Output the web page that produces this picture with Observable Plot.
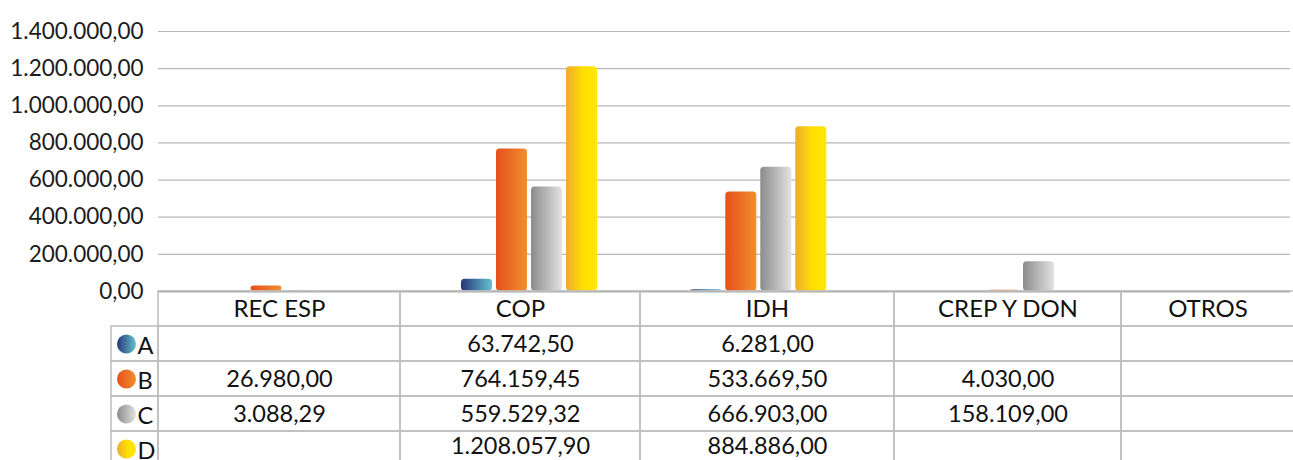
<!DOCTYPE html>
<html>
<head>
<meta charset="utf-8">
<script src="https://cdn.jsdelivr.net/npm/d3@7"></script>
<script src="https://cdn.jsdelivr.net/npm/@observablehq/plot@0.6"></script>
<style>
  html, body { margin: 0; padding: 0; background: #fff; }
  #wrap { position: relative; width: 1293px; height: 460px; overflow: hidden; font-family: Lato, sans-serif; }
  #chart, #table { position: absolute; left: 0; }
  #chart { top: 0; }
  #table { top: 289px; }
</style>
</head>
<body>
<svg width="0" height="0" style="position:absolute">
  <defs>
    <linearGradient id="gradA" x1="0" x2="1" y1="0" y2="0">
      <stop offset="0" stop-color="#27357a"/><stop offset="1" stop-color="#64c2ce"/>
    </linearGradient>
    <linearGradient id="gradB" x1="0" x2="1" y1="0" y2="0">
      <stop offset="0" stop-color="#e74f1e"/><stop offset="1" stop-color="#f18e2c"/>
    </linearGradient>
    <linearGradient id="gradC" x1="0" x2="1" y1="0" y2="0">
      <stop offset="0" stop-color="#8b8b8b"/><stop offset="1" stop-color="#e3e3e3"/>
    </linearGradient>
    <linearGradient id="gradD" x1="0" x2="1" y1="0" y2="0">
      <stop offset="0" stop-color="#eeaa31"/><stop offset="0.55" stop-color="#ffdf00"/><stop offset="1" stop-color="#ffe900"/>
    </linearGradient>
  </defs>
</svg>
<div id="wrap"><div id="chart"></div><div id="table"></div></div>
<script>
// ---- data ----
const categories = ["REC ESP", "COP", "IDH", "CREP Y DON", "OTROS"];
const seriesNames = ["A", "B", "C", "D"];
const valuesA = [null, 63742.50, 6281.00, null, null];
const valuesB = [26980.00, 764159.45, 533669.50, 4030.00, null];
const valuesC = [3088.29, 559529.32, 666903.00, 158109.00, null];
const valuesD = [null, 1208057.90, 884886.00, null, null];
const yTicks = [0, 200000, 400000, 600000, 800000, 1000000, 1200000, 1400000];

// ---- layout (not data) ----
const barCenters = [283.5, 529, 758.3, 1021, 1250];
const barOffsets = [-52.5, -17.5, 17.5, 52.5];
const colEdges = [111, 158, 400, 640, 894, 1121, 1294];
const font = "Lato, sans-serif";

const seriesValues = [valuesA, valuesB, valuesC, valuesD];
const rows = seriesNames.flatMap((s, k) =>
  categories.map((c, i) => ({series: s, si: k, category: c, ci: i, value: seriesValues[k][i]})));

const locale = d3.formatLocale({decimal: ",", thousands: ".", grouping: [3], currency: ["", ""]});
const fmt = locale.format(",.2f");

const chart = Plot.plot({
  width: 1293,
  height: 292,
  marginTop: 31,
  marginBottom: 1,
  marginLeft: 158,
  marginRight: 3,
  style: {fontFamily: font, background: "transparent", overflow: "visible"},
  x: {type: "linear", domain: [0, 1, 2, 3, 4], range: barCenters, axis: null},
  y: {domain: [0, 1400000], axis: null},
  marks: [
    Plot.gridY(yTicks, {stroke: "#b8b8b8", strokeOpacity: 1, strokeWidth: 1.2}),
    Plot.axisY(yTicks, {tickSize: 0, tickPadding: 15, tickFormat: fmt, fontSize: 22.5, fill: "#1c1c1c", label: null}),
    Plot.ruleY([0], {stroke: "#a8a8a8", strokeWidth: 2}),
    ...seriesNames.map((s, k) => Plot.rect(rows.filter(d => d.si === k && d.value != null), {
      x1: "ci", x2: "ci", y1: 0, y2: "value",
      insetLeft: -15.5, insetRight: -15.5, dx: barOffsets[k], dy: -0.5,
      fill: `url(#grad${s})`, rx: 3.5
    }))
  ]
});
document.getElementById("chart").appendChild(chart);

// ---- data table ----
const headerCells = categories.map((c, i) => ({x1: i, x2: i + 1, row: "H"}));
const legendCells = seriesNames.map(s => ({x1: -1, x2: 0, row: s}));
const dataCells = rows.map(d => ({x1: d.ci, x2: d.ci + 1, row: d.series, value: d.value}));
const shown = dataCells.filter(d => d.value != null);

const table = Plot.plot({
  width: 1293,
  height: 171,
  marginTop: 0, marginBottom: 0, marginLeft: 0, marginRight: 0,
  style: {fontFamily: font, background: "transparent", overflow: "visible"},
  x: {type: "linear", domain: [-1, 0, 1, 2, 3, 4, 5], range: colEdges, axis: null},
  y: {type: "band", domain: ["H", ...seriesNames], range: [2, 177], padding: 0, axis: null},
  marks: [
    Plot.barX([...headerCells, ...legendCells, ...dataCells], {
      x1: "x1", x2: "x2", y: "row", fill: "none", stroke: "#bdbdbd", strokeWidth: 1.5
    }),
    Plot.text(categories, {x: (d, i) => i + 0.5, y: () => "H", text: d => d, fontSize: 24, fill: "#111"}),
    Plot.text(shown.filter(d => d.row !== "D"), {
      x: d => d.x1 + 0.5, y: "row", text: d => fmt(d.value), fontSize: 23.5, fill: "#111"
    }),
    Plot.text(shown.filter(d => d.row === "D"), {
      x: d => d.x1 + 0.5, y: "row", text: d => fmt(d.value), fontSize: 23.5, fill: "#111", dy: -3
    }),
    ...seriesNames.map(s => Plot.dot([s], {x: -1, y: d => d, dx: 15, r: 9.5, fill: `url(#grad${s})`, stroke: "none"})),
    Plot.text(seriesNames, {x: -1, y: d => d, dx: 26, dy: 2, textAnchor: "start", text: d => d, fontSize: 23.5, fill: "#111"})
  ]
});
document.getElementById("table").appendChild(table);
</script>
</body>
</html>
